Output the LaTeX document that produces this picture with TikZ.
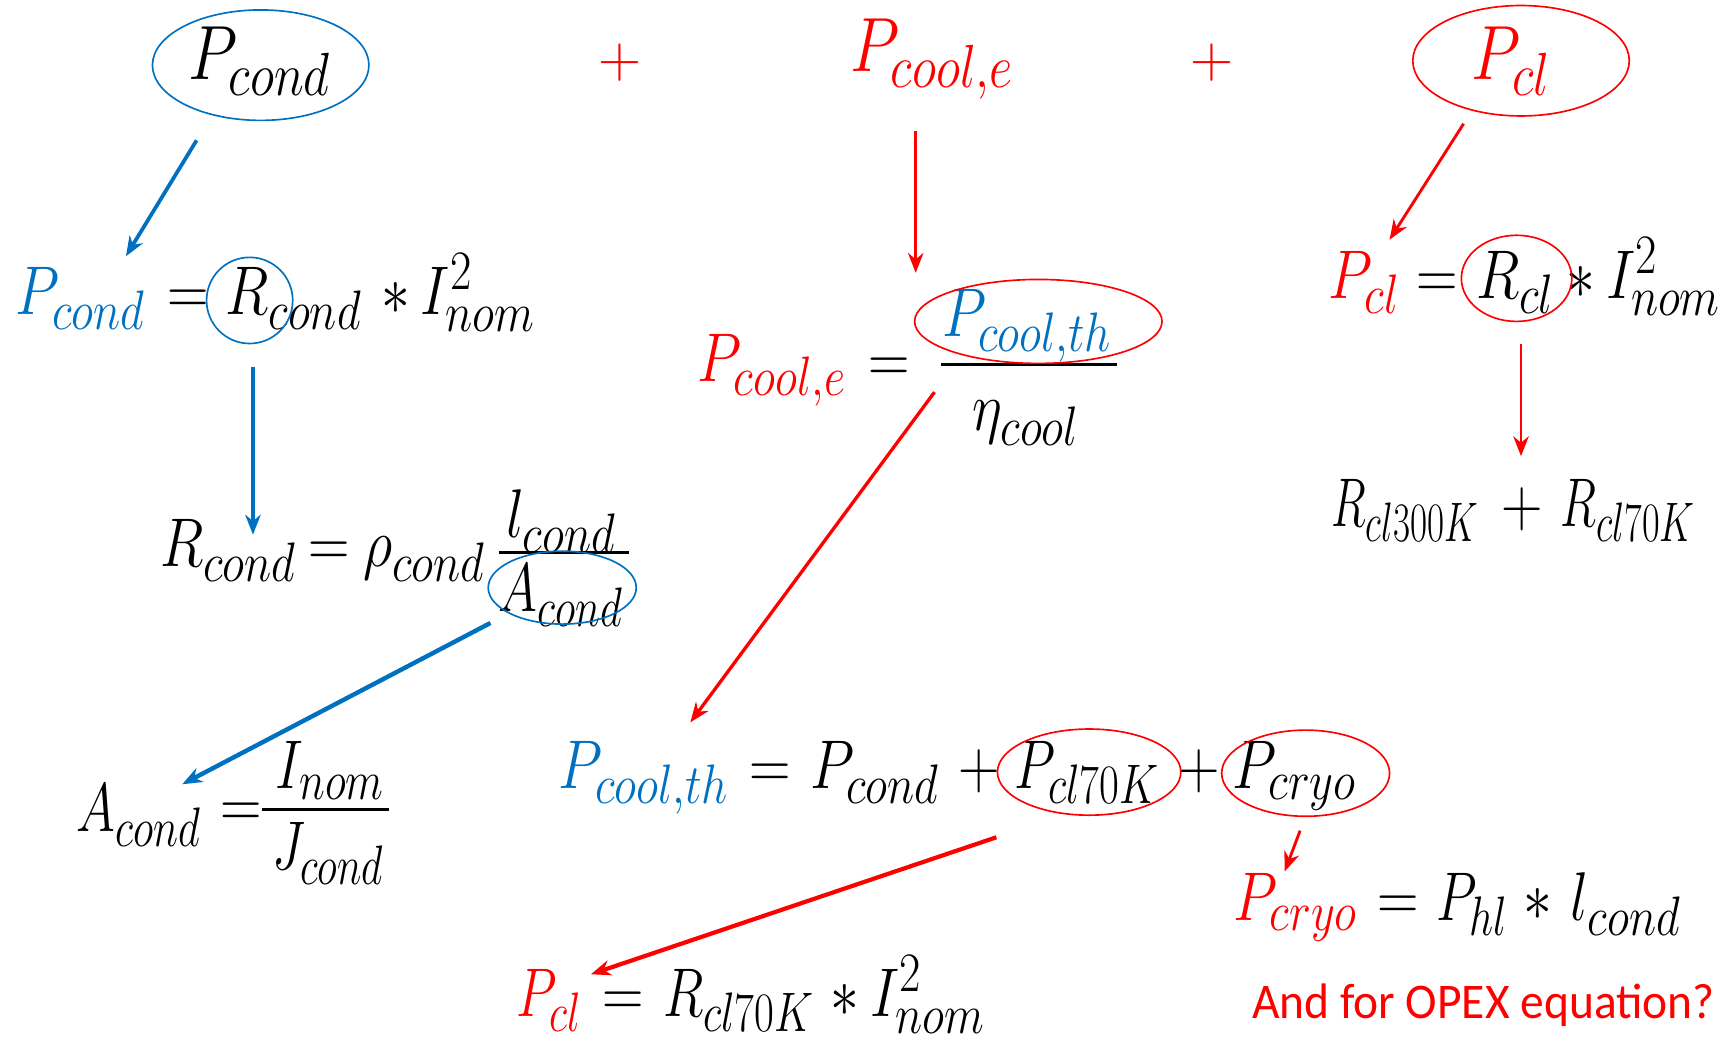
\RequirePackage{fix-cm}
\documentclass[tikz,border=0pt]{standalone}
\usepackage{graphicx}
\usepackage{fontspec}
\newfontfamily\calib{Carlito}
\usetikzlibrary{arrows.meta,shapes.geometric}
\definecolor{myblue}{HTML}{0070C0}
\definecolor{myred}{HTML}{FF0000}
\DeclareMathSizes{26}{26}{21}{17}
\DeclareMathSizes{29}{29}{23}{19}
\newcommand\eqm[2][1]{\scalebox{#1}[1.2]{$#2$}}
\begin{document}
\begin{tikzpicture}[x=0.5pt,y=-0.5pt,
  eq/.style={inner sep=0pt, anchor=base, font=\fontsize{26}{31}\selectfont},
  bigeq/.style={inner sep=0pt, anchor=base, font=\fontsize{29}{35}\selectfont},
  plus/.style={inner sep=0pt, anchor=center, text=myred, font=\fontsize{27}{32}\selectfont},
  blueell/.style={draw=myblue, line width=0.75pt, ellipse, inner sep=0pt},
  redell/.style={draw=myred, line width=0.75pt, ellipse, inner sep=0pt},
  barr/.style={myblue, line width=1.7pt, -{Stealth[length=9pt,width=7pt]}},
  rarr/.style={myred, line width=1.3pt, -{Stealth[length=9pt,width=7pt]}},
  fbar/.style={line width=1.2pt}]
\useasboundingbox (0,0) rectangle (1568,945);

% ---- top row
\node[bigeq] (topPcond) at (235,72) {\eqm{P_{cond}}};
\node[blueell, minimum width=98pt, minimum height=50pt] (topPcondE) at (236,59) {};
\node[plus] (plusA) at (561,57) {$\mathbf{+}$};
\node[bigeq, text=myred] (topPcoole) at (844,65) {\eqm{P_{cool,e}}};
\node[plus] (plusB) at (1097,57) {$\mathbf{+}$};
\node[bigeq, text=myred] (topPcl) at (1368,72) {\eqm{P_{cl}}};
\node[redell, minimum width=98pt, minimum height=50pt] (topPclE) at (1377,55) {};

% ---- P_cond = R_cond * I^2
\node[eq, text=myblue] (pcA) at (73,285) {\eqm{P_{cond}}};
\node[eq] (pcB) at (170,285) {\eqm{=}};
\node[eq] (pcC) at (266,285) {\eqm{R_{cond}}};
\node[eq] (pcD) at (358,285) {\eqm{*}};
\node[eq] (pcE) at (433,285) {\eqm{I_{nom}^{2}}};
\node[blueell, minimum width=39pt, minimum height=39pt] (pcRE) at (226,272) {};

% ---- P_cl = R_cl * I^2
\node[eq, text=myred] (plA) at (1235,270) {\eqm{P_{cl}}};
\node[eq] (plB) at (1301,270) {\eqm{=}};
\node[eq] (plC) at (1372,270) {\eqm{R_{cl}}};
\node[eq] (plD) at (1431,270) {\eqm{*}};
\node[eq] (plE) at (1506,270) {\eqm{I_{nom}^{2}}};
\node[redell, minimum width=50pt, minimum height=39pt] (plRE) at (1373,252) {};

% ---- P_cool,e = P_cool,th / eta
\node[eq, text=myred] (ceA) at (699,345) {\eqm{P_{cool,e}}};
\node[eq] (ceB) at (805,346) {\eqm{=}};
\node[eq, text=myblue] (ceN) at (930,305) {\eqm{P_{cool,th}}};
\draw[fbar] (852,330) -- (1011,330);
\node[eq] (ceD) at (929,390) {\eqm{\eta_{cool}}};
\node[redell, minimum width=112pt, minimum height=38pt] (ceNE) at (940,291) {};

% ---- R_cond = rho l / A
\node[eq] (rcA) at (207,513) {\eqm{R_{cond}}};
\node[eq] (rcB) at (298,513) {\eqm{=}};
\node[eq] (rcC) at (384,513) {\eqm{\rho_{cond}}};
\node[eq] (rcN) at (508,487) {\eqm{l_{cond}}};
\draw[fbar] (452,500) -- (569,500);
\node[eq] (rcD) at (508,554) {\eqm[0.92]{A_{cond}}};
\node[blueell, minimum width=67pt, minimum height=33pt] (rcDE) at (509,532) {};

% ---- R_cl300K + R_cl70K
\node[eq] (rsA) at (1272,477) {\eqm[0.8]{R_{cl300K}}};
\node[eq] (rsB) at (1378,477) {\eqm{+}};
\node[eq] (rsC) at (1474,477) {\eqm[0.83]{R_{cl70K}}};

% ---- A_cond = I_nom / J_cond
\node[eq] (acA) at (126,753) {\eqm[0.92]{A_{cond}}};
\node[eq] (acB) at (218,749) {\eqm{=}};
\node[eq] (acN) at (299,714) {\eqm[0.95]{I_{nom}}};
\draw[fbar] (237,733) -- (352,733);
\node[eq] (acD) at (297,787) {\eqm[0.9]{J_{cond}}};

% ---- P_cool,th = P_cond + P_cl70K + P_cryo
\node[eq, text=myblue] (thA) at (583,714) {\eqm{P_{cool,th}}};
\node[eq] (thB) at (697,714) {\eqm{=}};
\node[eq] (thC) at (792,714) {\eqm{P_{cond}}};
\node[eq] (thD) at (886,714) {\eqm{+}};
\node[eq] (thE) at (984,714) {\eqm[0.93]{P_{cl70K}}};
\node[eq] (thF) at (1086,714) {\eqm{+}};
\node[eq] (thG) at (1172,714) {\eqm{P_{cryo}}};
\node[redell, minimum width=83pt, minimum height=39pt] (thEE) at (986,699) {};
\node[redell, minimum width=76pt, minimum height=39pt] (thGE) at (1182,700) {};

% ---- P_cryo = P_hl * l_cond
\node[eq, text=myred] (cyA) at (1173,833) {\eqm{P_{cryo}}};
\node[eq] (cyB) at (1266,833) {\eqm{=}};
\node[eq] (cyC) at (1333,833) {\eqm[0.92]{P_{hl}}};
\node[eq] (cyD) at (1392,833) {\eqm{*}};
\node[eq] (cyE) at (1472,833) {\eqm{l_{cond}}};

% ---- P_cl = R_cl70K * I^2
\node[eq, text=myred] (bcA) at (497,920) {\eqm[0.92]{P_{cl}}};
\node[eq] (bcB) at (564,920) {\eqm{=}};
\node[eq] (bcC) at (669,920) {\eqm[0.93]{R_{cl70K}}};
\node[eq] (bcD) at (765,920) {\eqm{*}};
\node[eq] (bcE) at (840,920) {\eqm{I_{nom}^{2}}};

% ---- question
\node[inner sep=0pt, anchor=base, text=myred, font=\calib\fontsize{21.5}{26}\selectfont] (quest) at (1343,922) {\scalebox{1}[1.05]{And for OPEX equation?}};

% ---- arrows
\coordinate (a1s) at (178,127); \coordinate (a1e) at (114,232);
\coordinate (a2s) at (829,119); \coordinate (a2e) at (829,247);
\coordinate (a3s) at (1325,112); \coordinate (a3e) at (1258,217);
\coordinate (a4s) at (229,332); \coordinate (a4e) at (229,484);
\coordinate (a5s) at (846,355); \coordinate (a5e) at (625,654);
\coordinate (a6s) at (1377,311); \coordinate (a6e) at (1377,413);
\coordinate (a7s) at (444,564); \coordinate (a7e) at (165,710);
\coordinate (a8s) at (902,758); \coordinate (a8e) at (535,882);
\coordinate (a9s) at (1177,752); \coordinate (a9e) at (1163,789);
\draw[barr] (a1s) -- (a1e);
\draw[rarr] (a2s) -- (a2e);
\draw[rarr] (a3s) -- (a3e);
\draw[barr] (a4s) -- (a4e);
\draw[rarr, line width=1.5pt] (a5s) -- (a5e);
\draw[rarr] (a6s) -- (a6e);
\draw[barr, line width=2pt] (a7s) -- (a7e);
\draw[rarr, line width=1.9pt] (a8s) -- (a8e);
\draw[rarr] (a9s) -- (a9e);
\end{tikzpicture}
\end{document}
